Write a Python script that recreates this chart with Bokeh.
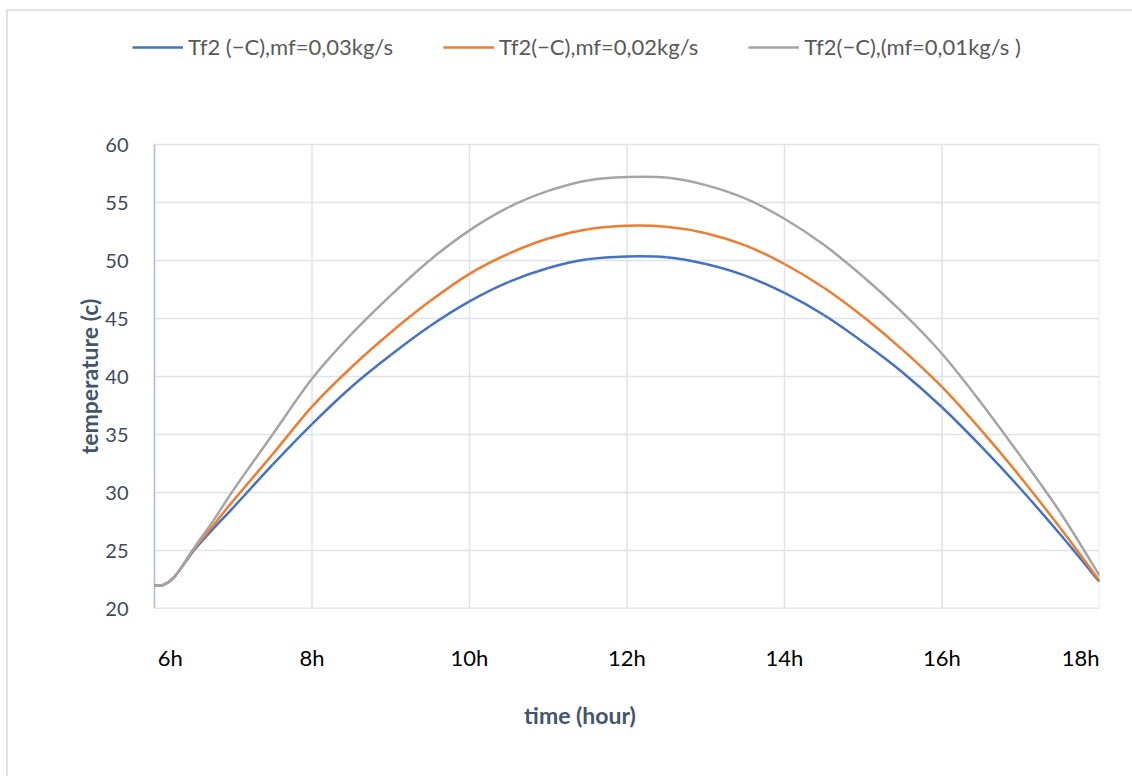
import math
from bokeh.plotting import figure
from bokeh.models import FixedTicker, Legend, LegendItem, Label
from bokeh.embed import file_html
from bokeh.resources import INLINE

# ---- data ----
hours = [6, 6.1, 6.25, 6.5, 6.75, 7, 7.5, 8, 8.5, 9, 9.5, 10, 10.5, 11, 11.5, 12,
         12.5, 13, 13.5, 14, 14.5, 15, 15.5, 16, 16.5, 17, 17.5, 18]
tf2_mf003 = [22.0, 22.0, 22.7, 25.0, 26.9, 28.7, 32.4, 35.9, 39.1, 41.85, 44.35, 46.47,
             48.15, 49.35, 50.1, 50.35, 50.28, 49.7, 48.7, 47.2, 45.3, 42.95,
             40.35, 37.35, 33.95, 30.3, 26.4, 22.3]
tf2_mf002 = [22.0, 22.0, 22.7, 25.1, 27.2, 29.3, 33.3, 37.4, 40.8, 43.8, 46.5, 48.85,
             50.6, 51.9, 52.7, 53.0, 52.9, 52.35, 51.3, 49.7, 47.65, 45.15,
             42.3, 39.1, 35.35, 31.3, 26.96, 22.4]
tf2_mf001 = [22.0, 22.0, 22.7, 25.2, 27.6, 30.2, 35.0, 39.8, 43.65, 47.0, 50.05, 52.6,
             54.6, 56.0, 56.9, 57.2, 57.15, 56.5, 55.35, 53.6, 51.35, 48.6,
             45.5, 41.96, 37.7, 33.1, 28.3, 22.84]
series_names = ["Tf2 (\u2212C),mf=0,03kg/s", "Tf2(\u2212C),mf=0,02kg/s", "Tf2(\u2212C),(mf=0,01kg/s )"]
series_colors = ["#4472C4", "#ED7D31", "#A5A5A5"]
x_tick_values = [6, 8, 10, 12, 14, 16, 18]
x_tick_labels = ["6h", "8h", "10h", "12h", "14h", "16h", "18h"]
y_ticks = [20, 25, 30, 35, 40, 45, 50, 55, 60]
x_title = "time (hour)"
y_title = "temperature (c)"

FONT = "Lato"
GRID = "#DFE3EA"

# layout geometry (pixels)
FRAME_L, FRAME_T, FRAME_B = 60, 20, 608
PLOT_L, PLOT_R, PLOT_T = 154, 1099, 144
LEGEND_L = 132
Y_LABEL_RIGHT = 131
Y_TITLE_X = 88
x_lo, x_hi = x_tick_values[0], x_tick_values[-1]
y_lo, y_hi = y_ticks[0], y_ticks[-1]
px_per_x = (PLOT_R - PLOT_L) / (x_hi - x_lo)
px_per_y = (FRAME_B - PLOT_T) / (y_hi - y_lo)


def smooth_segments(xs, ys):
    """Cubic Bezier control points (Catmull-Rom style) drawn through the data points."""
    n = len(xs)
    out = {k: [] for k in ("x0", "y0", "x1", "y1", "cx0", "cy0", "cx1", "cy1")}
    for i in range(n - 1):
        ip = max(i - 1, 0)
        inn = min(i + 2, n - 1)
        out["x0"].append(xs[i]); out["y0"].append(ys[i])
        out["x1"].append(xs[i + 1]); out["y1"].append(ys[i + 1])
        out["cx0"].append(xs[i] + (xs[i + 1] - xs[ip]) / 6.0)
        out["cy0"].append(ys[i] + (ys[i + 1] - ys[ip]) / 6.0)
        out["cx1"].append(xs[i + 1] - (xs[inn] - xs[i]) / 6.0)
        out["cy1"].append(ys[i + 1] - (ys[inn] - ys[i]) / 6.0)
    return out


p = figure(width=1132, height=776, output_backend="svg", toolbar_location=None,
           x_range=(x_lo - (PLOT_L - FRAME_L) / px_per_x, x_hi),
           y_range=(y_lo, y_hi + (PLOT_T - FRAME_T) / px_per_y),
           min_border_left=FRAME_L, min_border_right=1132 - PLOT_R,
           min_border_top=FRAME_T, min_border_bottom=776 - FRAME_B)
p.outline_line_color = None
p.background_fill_color = "white"
p.border_fill_color = None
# light chart-area border (left and top edges), drawn behind the canvas
p.styles = {
    "background": "linear-gradient(#DDE2EA, #DDE2EA) 6px 9px / 2px 100% no-repeat, "
                  "linear-gradient(#DDE2EA, #DDE2EA) 6px 9px / 100% 2px no-repeat, white"
}

# gridlines restricted to the plotting area
p.xgrid.visible = False
p.ygrid.visible = False
p.segment(x0=x_tick_values, y0=[y_lo] * len(x_tick_values), x1=x_tick_values,
          y1=[y_hi] * len(x_tick_values), line_color=GRID, line_width=1.5)
p.segment(x0=[x_lo] * len(y_ticks), y0=y_ticks, x1=[x_hi] * len(y_ticks), y1=y_ticks,
          line_color=GRID, line_width=1.5)
# axis lines
p.segment(x0=[x_lo], y0=[y_lo], x1=[x_hi], y1=[y_lo], line_color="#D9D9D9", line_width=1.5)
p.segment(x0=[x_lo], y0=[y_lo], x1=[x_lo], y1=[y_hi], line_color="#B4C2D9", line_width=1.5)

items = []
for ys, c, name in zip([tf2_mf003, tf2_mf002, tf2_mf001], series_colors, series_names):
    seg = smooth_segments(hours, ys)
    p.bezier(line_color=c, line_width=2.5, **seg)
    # legend swatch renderer: same style, its points lie outside the view
    sw = p.line(x=[0, 1], y=[0, 1], line_color=c, line_width=2.5)
    items.append(LegendItem(label=name, renderers=[sw]))

# x axis (edge labels pulled inward like the original)
label_pos = list(x_tick_values)
label_pos[0] = x_tick_values[0] + 0.2
label_pos[-1] = x_tick_values[-1] - 0.24
xa = p.xaxis[0]
xa.ticker = FixedTicker(ticks=label_pos)
xa.major_label_overrides = {lp: lab for lp, lab in zip(label_pos, x_tick_labels)}
xa.axis_line_color = None
xa.major_tick_line_color = None
xa.minor_tick_line_color = None
xa.major_label_text_font = FONT
xa.major_label_text_font_size = "22px"
xa.major_label_text_color = "#000000"
xa.major_label_standoff = 29
xa.axis_label = x_title
xa.axis_label_text_font = FONT
xa.axis_label_text_font_style = "bold"
xa.axis_label_text_font_size = "23px"
xa.axis_label_text_color = "#44546A"
xa.axis_label_standoff = 27

ya = p.yaxis[0]
ya.ticker = FixedTicker(ticks=y_ticks)
ya.axis_line_color = None
ya.major_tick_line_color = None
ya.minor_tick_line_color = None
ya.major_label_text_font = FONT
ya.major_label_text_font_size = "20px"
ya.major_label_text_color = "#404A5C"
ya.major_label_standoff = -(Y_LABEL_RIGHT - FRAME_L) - 3

# y-axis title centred on the 20-60 plotting area
p.add_layout(Label(x=x_lo - (PLOT_L - Y_TITLE_X) / px_per_x, y=(y_lo + y_hi) / 2,
                   text=y_title, angle=math.pi / 2, text_align="center",
                   text_baseline="middle", text_font=FONT, text_font_style="bold",
                   text_font_size="23px", text_color="#44546A"))

lg = Legend(items=items, location=(LEGEND_L - FRAME_L, 548), orientation="horizontal",
            margin=0, padding=0, spacing=50, border_line_color=None,
            background_fill_alpha=0, glyph_width=51, glyph_height=20,
            label_standoff=5, label_text_font=FONT, label_text_font_size="22px",
            label_text_color="#595959")
p.add_layout(lg, "center")

open("out.html", "w").write(file_html(p, INLINE))
